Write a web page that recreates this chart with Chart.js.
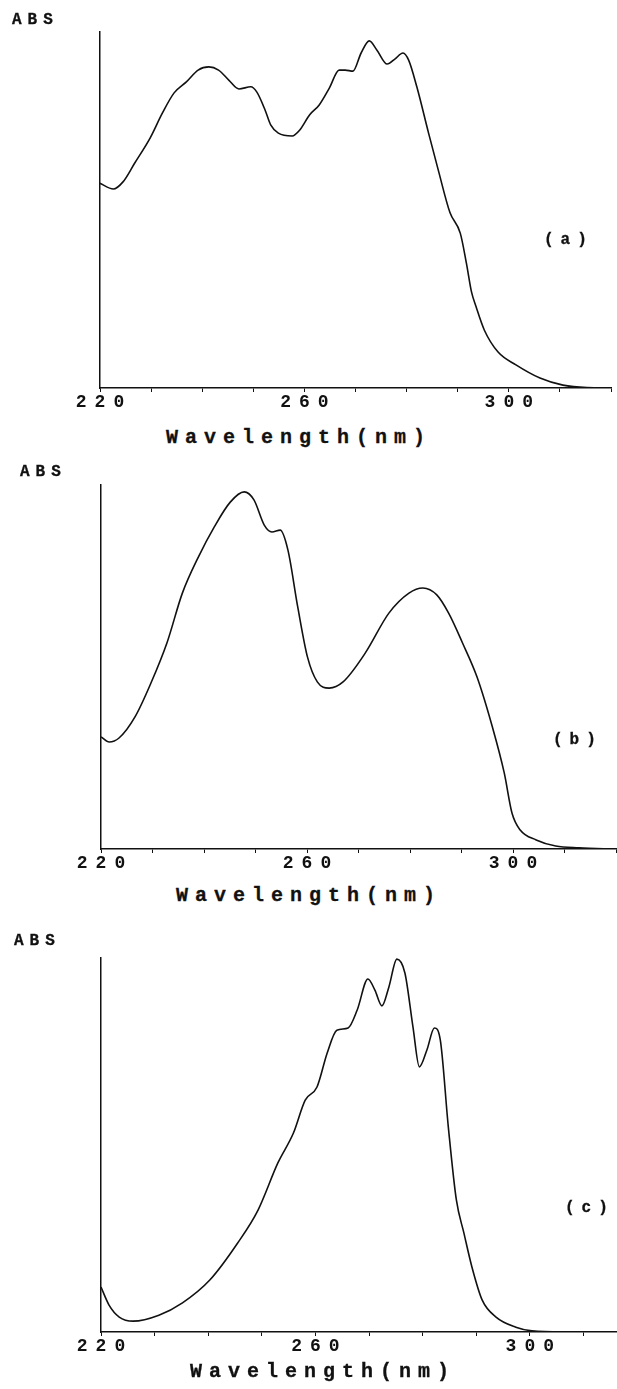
<!DOCTYPE html>
<html>
<head>
<meta charset="utf-8">
<script src="https://cdn.jsdelivr.net/npm/chart.js@4.4.1/dist/chart.umd.min.js"></script>
<style>
  html, body { margin: 0; padding: 0; background: #fff; overflow: hidden; }
  body { width: 617px; height: 1389px; position: relative; }
  .panel { position: absolute; left: 0; overflow: hidden; width: 617px; }
  .txt { position: absolute; font-family: "Liberation Mono", "DejaVu Sans Mono", monospace; font-weight: bold; color: #111; white-space: nowrap; -webkit-text-stroke: 0.3px #111; }
  .abs { font-size: 16px; letter-spacing: 6px; line-height: 18px; }
  .tag { font-size: 16px; letter-spacing: 7px; line-height: 18px; }
  .xt { font-size: 20px; letter-spacing: 7px; line-height: 24px; }
</style>
</head>
<body>

<div class="panel" style="top:0px;height:418px"><canvas id="specA" width="617" height="418"></canvas></div>
<div class="panel" style="top:453px;height:426px"><canvas id="specB" width="617" height="426"></canvas></div>
<div class="panel" style="top:926px;height:436px"><canvas id="specC" width="640" height="436"></canvas></div>

<div class="txt abs" style="left:12px;top:11px">ABS</div>
<div class="txt abs" style="left:20px;top:463px">ABS</div>
<div class="txt abs" style="left:14px;top:932px">ABS</div>

<div class="txt tag" style="left:544px;top:231px">(a)</div>
<div class="txt tag" style="left:553px;top:731px">(b)</div>
<div class="txt tag" style="left:565px;top:1199px">(c)</div>

<div class="txt xt" style="left:166px;top:426px">Wavelength(nm)</div>
<div class="txt xt" style="left:176px;top:884px">Wavelength(nm)</div>
<div class="txt xt" style="left:190px;top:1360px">Wavelength(nm)</div>

<script>
// UV spectra, absorbance in arbitrary units (0 = baseline, 100 = top of axis)

const tickLabels = [220, 260, 300];

const nmA  = [220, 222.6, 224.5, 226.8, 229.8, 232.2, 234.5, 236.9, 239.2, 241.3, 243.2, 245.2, 247.2, 249.5, 250.7, 252.3, 253.4, 254.9, 257.6, 259.1, 261, 262.9, 264.9, 266.8, 268, 269.5, 271.1, 272.7, 274.2, 276.2, 277.7, 279.3, 280.4, 282, 284.3, 286.2, 288.5, 290.5, 291.7, 292.7, 293.6, 295.2, 297.9, 301.4, 306.1, 310.6, 315.3, 320];
const absA = [57.5, 55.9, 57.9, 63.2, 70.2, 77.2, 82.9, 86.0, 89.3, 90.2, 89.3, 86.5, 84.0, 84.6, 83.1, 78.1, 73.9, 71.6, 70.8, 72.5, 76.7, 79.5, 84.3, 89.3, 89.3, 89.0, 94.1, 97.5, 94.9, 91.0, 92.4, 94.1, 92.1, 84.6, 71.6, 61.2, 49.2, 43.5, 35.1, 27.0, 22.8, 16.3, 10.1, 6.5, 2.8, 0.8, 0.1, 0];

const nmB  = [220, 221.6, 223.5, 226.6, 229.7, 232.8, 235.8, 238.9, 242, 245.1, 247.8, 249.7, 251.7, 253.2, 254.8, 256.3, 258.2, 260.1, 262, 264.3, 267, 271.3, 275.9, 279.8, 282.5, 285.2, 287.5, 290.2, 293, 296, 298.3, 299.8, 301.4, 304.5, 308.3, 312.8, 320];
const absB = [30.8, 29.4, 30.5, 36.3, 45.6, 56.6, 70.3, 80.2, 88.5, 95.3, 98.1, 95.9, 89.0, 87.1, 87.6, 82.1, 66.5, 52.7, 45.9, 44.2, 45.9, 53.8, 64.8, 70.3, 71.7, 69.8, 64.8, 56.6, 47.3, 33.5, 20.9, 9.9, 5.2, 2.5, 0.8, 0.3, 0];

const nmC  = [220, 221.5, 223.4, 226, 230.8, 235.2, 240.3, 245.5, 249.3, 253, 255.9, 258.1, 260.3, 262.2, 264, 266.1, 267.8, 269.8, 271.1, 272.4, 273.7, 275.2, 276.7, 278.2, 279.4, 280.8, 282.2, 283.3, 284.8, 286.3, 287.7, 289.2, 291.1, 293.7, 297.4, 300.4, 306, 320];
const absC = [12.0, 7.2, 4.0, 2.9, 4.5, 7.8, 13.9, 23.8, 32.6, 45.2, 53.2, 62.0, 65.5, 74.6, 80.7, 81.3, 86.1, 94.4, 91.4, 87.2, 92.2, 99.7, 96.0, 81.6, 70.9, 75.4, 81.3, 78.1, 54.8, 35.3, 26.5, 17.4, 8.6, 4.0, 1.3, 0.3, 0, 0];

// wide-spaced tick numbers, like the plotter font
const spacedTicks = {
    id: 'spacedTicks',
    beforeDraw(chart) { chart.ctx.letterSpacing = '8px'; },
    afterDraw(chart) { chart.ctx.letterSpacing = '0px'; }
};

function drawSpectrum(id, nm, abs, pad) {
    const pts = nm.map((x, i) => ({ x: x, y: abs[i] }));
    new Chart(document.getElementById(id), {
        type: 'line',
        data: {
            datasets: [{
                data: pts,
                borderColor: '#111',
                borderWidth: 1.6,
                pointRadius: 0,
                fill: false,
                cubicInterpolationMode: 'monotone'
            }]
        },
        options: {
            responsive: false,
            animation: false,
            events: [],
            layout: { padding: { top: 32, left: pad.left, right: pad.right, bottom: 0 } },
            plugins: { legend: { display: false }, tooltip: { enabled: false } },
            scales: {
                x: {
                    type: 'linear',
                    min: 220,
                    max: 320,
                    afterFit: s => { s.height = 30; },
                    ticks: {
                        stepSize: 10,
                        autoSkip: false,
                        maxRotation: 0,
                        padding: 0,
                        labelOffset: 4,
                        color: '#111',
                        font: { family: "'Liberation Mono', monospace", weight: 'bold', size: 18 },
                        callback: v => tickLabels.includes(Math.round(v)) ? String(Math.round(v)) : ''
                    },
                    grid: { drawOnChartArea: false, drawTicks: true, tickLength: 4, color: '#111', lineWidth: 1 },
                    border: { display: true, color: '#111', width: 1.5 }
                },
                y: {
                    min: 0,
                    max: 100,
                    afterFit: s => { s.width = 0; },
                    ticks: { display: false },
                    grid: { display: false, drawTicks: false },
                    border: { display: true, color: '#111', width: 1.5 }
                }
            }
        },
        plugins: [spacedTicks]
    });
}

drawSpectrum('specA', nmA, absA, { left: 100, right: 6 });
drawSpectrum('specB', nmB, absB, { left: 101, right: 1 });
drawSpectrum('specC', nmC, absC, { left: 101, right: 3 });
</script>
</body>
</html>
